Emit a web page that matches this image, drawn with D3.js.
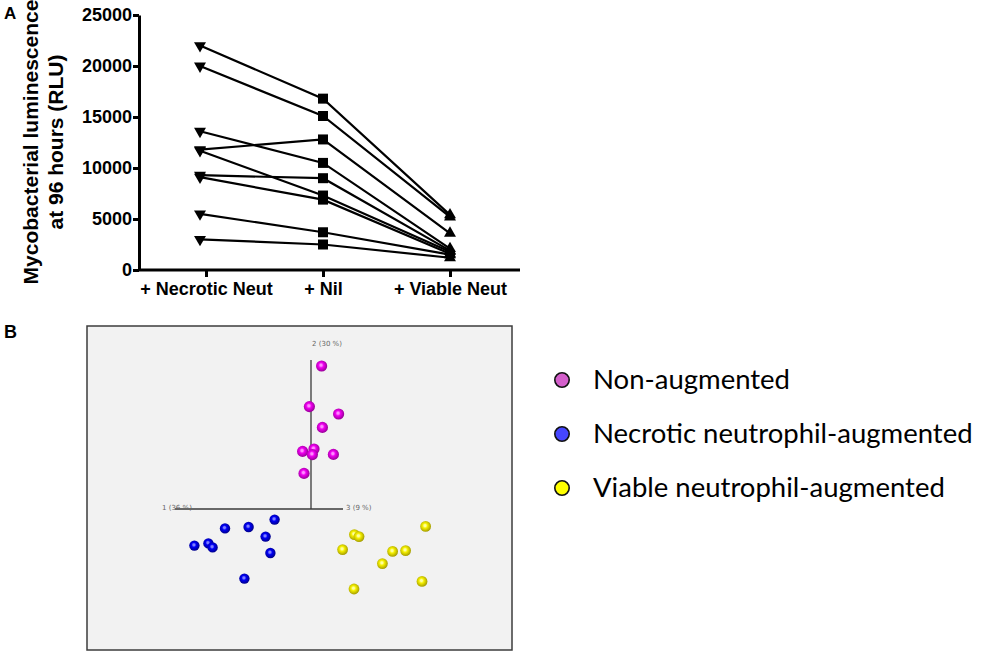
<!DOCTYPE html>
<html>
<head>
<meta charset="utf-8">
<script src="https://cdn.jsdelivr.net/npm/d3@7"></script>
<style>
  body { margin: 0; background: #fff; }
  svg { display: block; }
</style>
</head>
<body>
<svg id="fig" width="983" height="653"></svg>
<script>
// Panel A: luminescence per donor across the three conditions
const categories = ["+ Necrotic Neut", "+ Nil", "+ Viable Neut"];
const necroticRLU = [22000, 20000, 13600, 11800, 11700, 9300, 9100, 5500, 3000];
const nilRLU = [16800, 15100, 10500, 12800, 7300, 9000, 6900, 3700, 2500];
const viableRLU = [5400, 5200, 2100, 3600, 1800, 1900, 1600, 1500, 1200];
const yTicks = [0, 5000, 10000, 15000, 20000, 25000];

// Panel B: PCA scores (component 1 / component 2 projection)
const groups = ["Non-augmented", "Necrotic neutrophil-augmented", "Viable neutrophil-augmented"];
const nonAugX = [0.53, -0.08, 1.38, 0.57, -0.42, 0.15, 0.07, 1.12, -0.35];
const nonAugY = [7.15, 5.12, 4.75, 4.08, 2.88, 3.0, 2.72, 2.73, 1.78];
const necroticX = [-1.82, -4.3, -3.12, -2.27, -5.83, -5.13, -4.92, -2.03, -3.33];
const necroticY = [-0.53, -0.97, -0.9, -1.38, -1.83, -1.72, -1.92, -2.2, -3.48];
const viableX = [5.73, 2.17, 2.4, 1.58, 4.08, 4.73, 3.57, 5.55, 2.15];
const viableY = [-0.87, -1.28, -1.38, -2.03, -2.12, -2.08, -2.73, -3.62, -4.0];
const pcaAxisLabels = ["1 (36 %)", "2 (30 %)", "3 (9 %)"];

const svg = d3.select("#fig");
const boldFont = "'Liberation Sans', Arial, sans-serif";

// ---------- Panel A ----------
const x = d3.scaleOrdinal().domain(categories).range([206, 323, 450]);
const y = d3.scaleLinear().domain([0, 25000]).range([270, 15]);
const markShift = [-6, 0, 0];

const gA = svg.append("g");

gA.append("text").attr("x", 4).attr("y", 19).text("A")
  .style("font-family", boldFont).style("font-weight", "bold").style("font-size", "17px");

// y axis
const yAxis = gA.append("g")
  .attr("transform", "translate(139,0)")
  .call(d3.axisLeft(y).tickValues(yTicks).tickSize(6).tickSizeOuter(0).tickFormat(d3.format("d")));
yAxis.select(".domain").attr("stroke-width", 3);
yAxis.selectAll(".tick line").attr("stroke-width", 3);
yAxis.selectAll("text")
  .style("font-family", boldFont).style("font-weight", "bold").style("font-size", "18px")
  .attr("x", -7);

// x axis
const xAxis = gA.append("g")
  .attr("transform", "translate(0,270)")
  .call(d3.axisBottom(x).tickSize(7).tickSizeOuter(0));
xAxis.select(".domain").remove();
xAxis.append("line").attr("x1", 138).attr("x2", 520).attr("stroke", "#000").attr("stroke-width", 3);
xAxis.selectAll(".tick line").attr("stroke-width", 3);
xAxis.selectAll("text")
  .style("font-family", boldFont).style("font-weight", "bold").style("font-size", "18px")
  .attr("y", 12);

// y label
const yLab = gA.append("g").style("font-family", boldFont).style("font-weight", "bold").style("font-size", "21px");
yLab.append("text").attr("transform", "translate(38,142) rotate(-90)").attr("text-anchor", "middle")
  .text("Mycobacterial luminescence");
yLab.append("text").attr("transform", "translate(63,142) rotate(-90)").attr("text-anchor", "middle")
  .text("at 96 hours (RLU)");

// connecting lines
const donors = necroticRLU.map((v, i) => [v, nilRLU[i], viableRLU[i]]);
const line = d3.line()
  .x((d, i) => x(categories[i]) + markShift[i])
  .y(d => y(d));
gA.selectAll(".donor").data(donors).enter().append("path")
  .attr("class", "donor")
  .attr("d", line)
  .attr("fill", "none").attr("stroke", "#000").attr("stroke-width", 2.2);

// markers
const markers = [
  { vals: necroticRLU, type: d3.symbolTriangle, size: 62, rot: 180 },
  { vals: nilRLU, type: d3.symbolSquare, size: 100, rot: 0 },
  { vals: viableRLU, type: d3.symbolTriangle, size: 62, rot: 0 }
];
markers.forEach((m, ci) => {
  gA.selectAll(".m" + ci).data(m.vals).enter().append("path")
    .attr("class", "m" + ci)
    .attr("d", d3.symbol().type(m.type).size(m.size))
    .attr("transform", d => `translate(${x(categories[ci]) + markShift[ci]},${y(d)}) rotate(${m.rot})`)
    .attr("fill", "#000");
});

// ---------- Panel B ----------
const gB = svg.append("g");
gB.append("text").attr("x", 4).attr("y", 338).text("B")
  .style("font-family", boldFont).style("font-weight", "bold").style("font-size", "18px");

gB.append("rect").attr("x", 87).attr("y", 326).attr("width", 425).attr("height", 324)
  .attr("fill", "#f2f2f2").attr("stroke", "#3c3c3c").attr("stroke-width", 1.5);

const px = d3.scaleLinear().domain([-10, 10]).range([111, 511]);
const py = d3.scaleLinear().domain([-10, 10]).range([709, 309]);

// PCA axes
gB.append("line").attr("x1", px(0)).attr("x2", px(0)).attr("y1", py(0)).attr("y2", py(7.45))
  .attr("stroke", "#3a3a3a").attr("stroke-width", 1.3);
gB.append("line").attr("x1", px(-6.8)).attr("x2", px(1.6)).attr("y1", py(0)).attr("y2", py(0))
  .attr("stroke", "#3a3a3a").attr("stroke-width", 1.3);
const axLab = gB.append("g").style("font-family", "'DejaVu Sans', sans-serif").style("font-size", "7px").attr("fill", "#666");
axLab.append("text").attr("x", px(-7.45)).attr("y", py(0) + 1).text(pcaAxisLabels[0]);
axLab.append("text").attr("x", px(0.8)).attr("y", py(8.15)).attr("text-anchor", "middle").text(pcaAxisLabels[1]);
axLab.append("text").attr("x", px(1.75)).attr("y", py(0) + 1).text(pcaAxisLabels[2]);

// sphere gradients
const defs = svg.append("defs");
const sphereCols = [
  ["#ff8cff", "#f000f0", "#8a008a"],
  ["#8080ff", "#0000f5", "#00007a"],
  ["#ffffa0", "#f5f000", "#9a9200"]
];
sphereCols.forEach((c, i) => {
  const g = defs.append("radialGradient").attr("id", "sph" + i)
    .attr("cx", "45%").attr("cy", "45%").attr("r", "60%").attr("fx", "45%").attr("fy", "42%");
  g.append("stop").attr("offset", "0%").attr("stop-color", c[0]);
  g.append("stop").attr("offset", "15%").attr("stop-color", c[0]);
  g.append("stop").attr("offset", "38%").attr("stop-color", c[1]);
  g.append("stop").attr("offset", "100%").attr("stop-color", c[2]);
});

const pcaSets = [
  { xs: nonAugX, ys: nonAugY, r: 5.6 },
  { xs: necroticX, ys: necroticY, r: 5.2 },
  { xs: viableX, ys: viableY, r: 5.4 }
];
pcaSets.forEach((s, gi) => {
  gB.selectAll(".p" + gi).data(s.xs.map((v, i) => [v, s.ys[i]])).enter().append("circle")
    .attr("class", "p" + gi)
    .attr("cx", d => px(d[0])).attr("cy", d => py(d[1]))
    .attr("r", s.r)
    .attr("fill", `url(#sph${gi})`);
});

// legend
const legendCols = ["#d45fcb", "#4646ff", "#ffff00"];
const leg = gB.append("g").attr("transform", "translate(562,380)");
const items = leg.selectAll("g").data(groups).enter().append("g")
  .attr("transform", (d, i) => `translate(0,${i * 54})`);
items.append("circle").attr("r", 7.2).attr("fill", (d, i) => legendCols[i])
  .attr("stroke", "#111").attr("stroke-width", 1.6);
items.append("text").attr("x", 31).attr("y", 9).text(d => d)
  .style("font-family", "Lato, 'Open Sans', sans-serif").style("font-size", "27.5px").attr("fill", "#000");
</script>
</body>
</html>
